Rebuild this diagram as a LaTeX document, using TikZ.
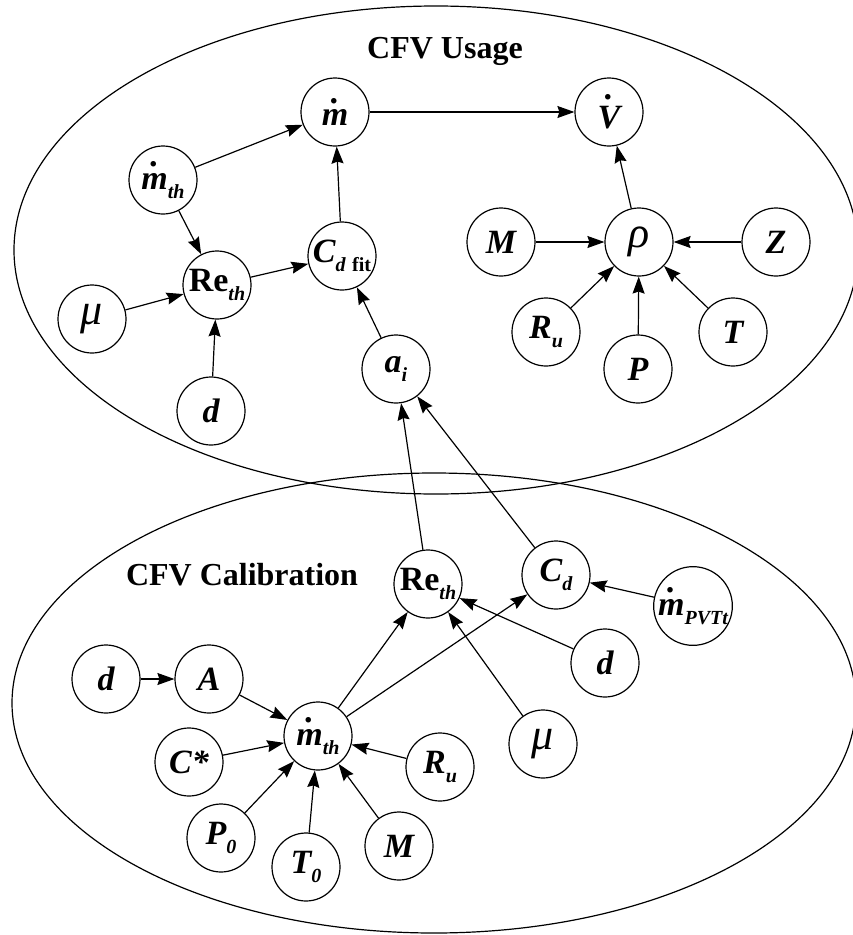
\documentclass[tikz,border=0pt]{standalone}
\usepackage{fontspec}
\setmainfont{Liberation Serif}
\usetikzlibrary{arrows.meta}
% dot over a letter (mass flow, volume flow)
\newcommand\dotacc[2][0.66em]{\leavevmode\setbox0\hbox{#2}\rlap{\hbox to\wd0{\hss\raisebox{#1}{.}\hss}}\box0}
\newcommand\sub[1]{\raisebox{-0.26em}{\fontsize{20}{20}\selectfont#1}}
\newcommand\greek[1]{{\fontsize{44}{44}\selectfont\mdseries\itshape#1}}
\tikzset{diagram layout/.style={%
    x=1pt,%
    y=-1pt,%
    vnode/.style={%
        circle, draw, line width=1.2pt, minimum size=68pt, inner sep=0pt,
        font=\fontsize{34}{34}\selectfont\bfseries\itshape
    },%
    group title/.style={%
        anchor=base, font=\fontsize{32}{32}\selectfont\bfseries
    },%
    link/.style={%
        line width=1.2pt, -{Stealth[width=12pt,length=17pt,inset=2pt]}
    }%
}}

\begin{document}
\begin{tikzpicture}[diagram layout]
    \useasboundingbox (0,0) rectangle (853,935);
    \clip (0,0) rectangle (853,935);

    % the two groups
    \draw[line width=1.2pt] (436,250) ellipse [x radius=422pt, y radius=244pt];
    \draw[line width=1.2pt] (434,703) ellipse [x radius=422pt, y radius=230pt];
    \node (usage) at (445,58) [group title] {CFV Usage};
    \node (calib) at (242,585) [group title] {CFV Calibration};

    % usage
    \node (mdot) at (335,112) [vnode] {\dotacc{m}};
    \node (Vdot) at (609,112) [vnode] {\dotacc[0.84em]{V}};
    \node (mthU) at (163,180) [vnode] {\dotacc{m}\sub{th}};
    \node (Cfit) at (342,256) [vnode] {C\sub{d\,\,\upshape fit}};
    \node (ReU) at (217,285) [vnode] {{\upshape Re}\sub{th}};
    \node (muU) at (92,319) [vnode] {\greek{μ}};
    \node (dU) at (211,411) [vnode] {d};
    \node (ai) at (396,369) [vnode] {a\sub{i}};
    \node (MU) at (501,242) [vnode] {M};
    \node (rho) at (639,242) [vnode] {\greek{ρ}};
    \node (ZU) at (776,242) [vnode] {Z};
    \node (RuU) at (546,332) [vnode] {R\sub{u}};
    \node (PU) at (638,369) [vnode] {P};
    \node (TU) at (733,332) [vnode] {T};

    % calibration
    \node (ReL) at (428,584) [vnode] {{\upshape Re}\sub{th}};
    \node (Cd) at (556,575) [vnode] {C\sub{d}};
    \node (mpvt) at (693,606) [vnode] {\dotacc{m}\sub{PVTt}};
    \node (dR) at (605,663) [vnode] {d};
    \node (muL) at (543,744) [vnode] {\greek{μ}};
    \node (RuL) at (440,767) [vnode] {R\sub{u}};
    \node (dL) at (106,679) [vnode] {d};
    \node (A) at (209,679) [vnode] {A};
    \node (mL) at (318,736) [vnode] {\dotacc{m}\sub{th}};
    \node (Cs) at (189,762) [vnode] {C*};
    \node (P0) at (221,838) [vnode] {P\sub{0}};
    \node (T0) at (306,867) [vnode] {T\sub{0}};
    \node (ML) at (399,846) [vnode] {M};

    \foreach \src/\dst in {mthU/mdot, mthU/ReU, muU/ReU, dU/ReU, ReU/Cfit,
        Cfit/mdot, ai/Cfit, mdot/Vdot, rho/Vdot, MU/rho, ZU/rho, RuU/rho,
        PU/rho, TU/rho, ReL/ai, Cd/ai, mL/ReL, mL/Cd, dR/ReL, muL/ReL,
        mpvt/Cd, dL/A, A/mL, Cs/mL, P0/mL, T0/mL, ML/mL, RuL/mL} {
        \draw[link] (\src) -- (\dst);
    }
\end{tikzpicture}
\end{document}
